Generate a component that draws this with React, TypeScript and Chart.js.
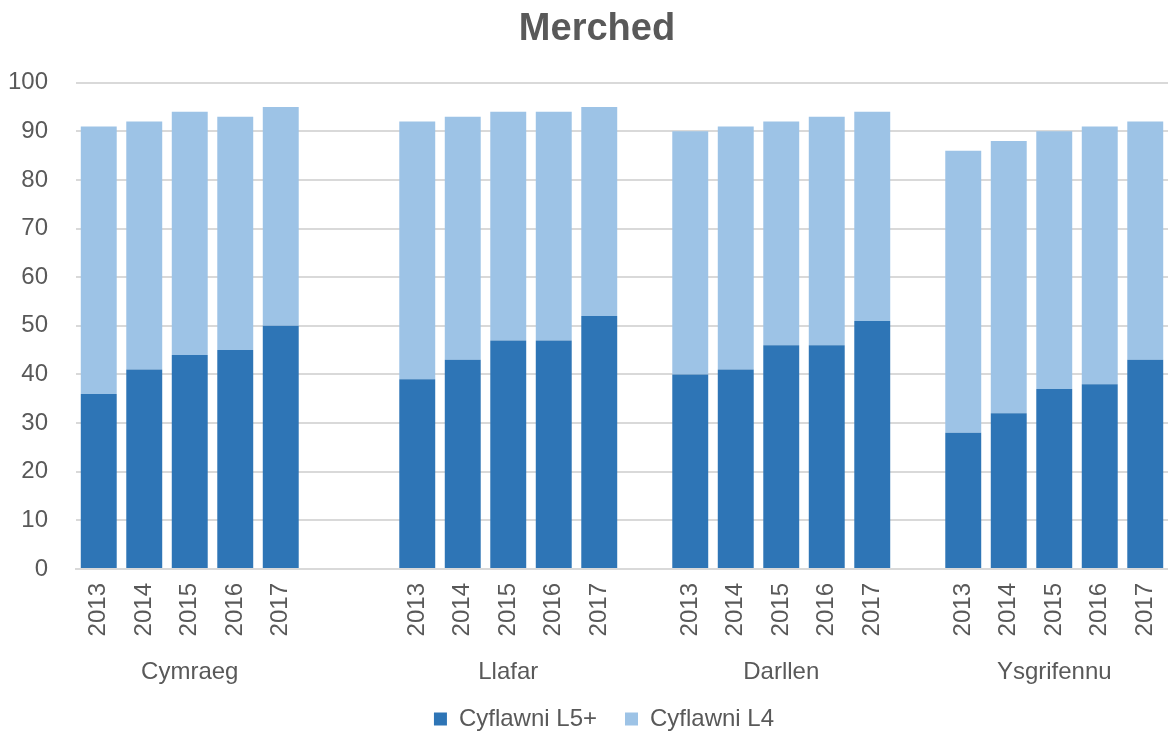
import React, { useEffect, useRef } from "react";
import { Chart, registerables } from "chart.js";

Chart.register(...registerables);

const years = ["2013", "2014", "2015", "2016", "2017"];
const groups = ["Cymraeg", "Llafar", "Darllen", "Ysgrifennu"];
// gaps (empty categories) after each group
const gapsAfter = [2, 1, 1, 0];

const l5Cymraeg = [36, 41, 44, 45, 50];
const l5Llafar = [39, 43, 47, 47, 52];
const l5Darllen = [40, 41, 46, 46, 51];
const l5Ysgrifennu = [28, 32, 37, 38, 43];

const totalCymraeg = [91, 92, 94, 93, 95];
const totalLlafar = [92, 93, 94, 94, 95];
const totalDarllen = [90, 91, 92, 93, 94];
const totalYsgrifennu = [86, 88, 90, 91, 92];

const yTicks = [0, 10, 20, 30, 40, 50, 60, 70, 80, 90, 100];

const l5Groups = [l5Cymraeg, l5Llafar, l5Darllen, l5Ysgrifennu];
const totalGroups = [totalCymraeg, totalLlafar, totalDarllen, totalYsgrifennu];

function build() {
  const labels: string[] = [];
  const groupLabels: string[] = [];
  const l5: (number | null)[] = [];
  const l4: (number | null)[] = [];
  groups.forEach((g, gi) => {
    years.forEach((y, yi) => {
      labels.push(y);
      groupLabels.push(yi === 2 ? g : "");
      l5.push(l5Groups[gi][yi]);
      l4.push(totalGroups[gi][yi] - l5Groups[gi][yi]);
    });
    for (let k = 0; k < gapsAfter[gi]; k++) {
      labels.push("");
      groupLabels.push("");
      l5.push(null);
      l4.push(null);
    }
  });
  return { labels, groupLabels, l5, l4 };
}

const FONT = "'Liberation Sans', Arial, sans-serif";
const TEXT = "#595959";

const shiftPlugin = {
  id: "shiftBlocks",
  afterLayout(chart: any) {
    if (chart.titleBlock) {
      chart.titleBlock.left += 9;
      chart.titleBlock.right += 9;
    }
    if (chart.legend) {
      chart.legend.left += 16;
      chart.legend.right += 16;
    }
    if (chart.scales.x2) {
      chart.scales.x2.bottom += 14;
    }
  },
};

export default function App() {
  const ref = useRef<HTMLCanvasElement | null>(null);
  useEffect(() => {
    document.body.style.margin = "0";
    const { labels, groupLabels, l5, l4 } = build();
    const chart = new Chart(ref.current!, {
      type: "bar",
      data: {
        labels,
        datasets: [
          {
            label: "Cyflawni L5+",
            data: l5,
            backgroundColor: "#2E75B6",
            barPercentage: 0.79,
            categoryPercentage: 1,
          },
          {
            label: "Cyflawni L4",
            data: l4,
            backgroundColor: "#9DC3E6",
            barPercentage: 0.79,
            categoryPercentage: 1,
          },
        ],
      },
      plugins: [shiftPlugin],
      options: {
        animation: false,
        responsive: true,
        maintainAspectRatio: false,
        layout: { padding: { left: 8, right: 0, top: 0, bottom: -10 } },
        plugins: {
          title: {
            display: true,
            text: "Merched",
            color: TEXT,
            font: { family: FONT, size: 38, weight: "bold" },
            padding: { top: 7, bottom: 30 },
          },
          legend: {
            position: "bottom",
            labels: {
              color: TEXT,
              font: { family: FONT, size: 24 },
              boxWidth: 13,
              boxHeight: 13,
              padding: 28,
            },
          },
          tooltip: { enabled: false },
        },
        scales: {
          x: {
            stacked: true,
            afterFit: (s: any) => {
              s.paddingLeft = 0;
              s.paddingRight = 0;
              s.height = 72;
            },
            grid: { display: false, drawTicks: false },
            border: { display: true, color: "#D9D9D9", width: 2 },
            ticks: {
              color: TEXT,
              font: { family: FONT, size: 24 },
              minRotation: 90,
              maxRotation: 90,
              autoSkip: false,
              padding: 14,
            },
          },
          x2: {
            type: "category",
            position: "bottom",
            labels: groupLabels,
            weight: 1,
            offset: true,
            afterFit: (s: any) => {
              s.paddingLeft = 0;
              s.paddingRight = 0;
              s.height = 38;
            },
            grid: { display: false, drawTicks: false },
            border: { display: false },
            ticks: {
              color: TEXT,
              font: { family: FONT, size: 24 },
              maxRotation: 0,
              minRotation: 0,
              autoSkip: false,
              padding: 17,
            },
          },
          y: {
            stacked: true,
            min: 0,
            max: 100,
            afterBuildTicks: (axis: any) => {
              axis.ticks = yTicks.map((v) => ({ value: v }));
            },
            afterFit: (axis: any) => {
              axis.width = 68;
            },
            grid: { color: "#D9D9D9", lineWidth: 2, drawTicks: false },
            border: { display: false },
            ticks: {
              color: TEXT,
              font: { family: FONT, size: 24 },
              padding: 28,
            },
          },
        },
      },
    });
    return () => chart.destroy();
  }, []);
  return (
    <div style={{ width: 1168, height: 731, position: "relative" }}>
      <canvas ref={ref} />
    </div>
  );
}
